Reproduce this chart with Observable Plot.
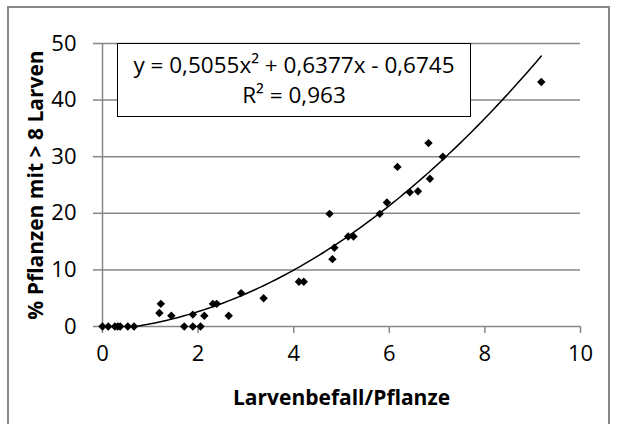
<!DOCTYPE html>
<html>
<head>
<meta charset="utf-8">
<script src="https://cdn.jsdelivr.net/npm/d3@7"></script>
<script src="https://cdn.jsdelivr.net/npm/@observablehq/plot@0.6"></script>
<style>
  html, body { margin: 0; padding: 0; background: #fff; }
  #wrap { position: relative; width: 618px; height: 424px; overflow: hidden; font-family: "Open Sans", sans-serif; }
  #border { position: absolute; left: 7px; top: 6px; width: 603px; height: 440px; border: 2px solid #878787; box-sizing: border-box; }
  #eq { position: absolute; left: 117px; top: 43px; width: 354px; height: 74px; border: 1.5px solid #000; background: #fff; box-sizing: border-box; text-align: center; font-size: 22.5px; color: #000; line-height: 30px; padding-top: 6px; white-space: nowrap; }
  #chart { position: absolute; left: 0; top: 0; }
</style>
</head>
<body>
<div id="wrap">
  <div id="border"></div>
  <div id="chart"></div>
  <div id="eq"><div>y = 0,5055x² + 0,6377x - 0,6745</div><div>R² = 0,963</div></div>
</div>
<script>
// Data
const larvae = [0.00, 0.12, 0.26, 0.32, 0.37, 0.53, 0.66, 1.19, 1.22, 1.44, 1.71, 1.89, 1.89, 2.05, 2.13, 2.31, 2.39, 2.64, 2.90, 3.37, 4.11, 4.21, 4.75, 4.81, 4.85, 5.14, 5.25, 5.80, 5.95, 6.17, 6.43, 6.60, 6.82, 6.85, 7.12, 9.18];
const percent = [0, 0, 0, 0, 0, 0, 0, 2.4, 4.0, 1.9, 0, 0, 2.1, 0, 1.9, 4.0, 4.0, 1.9, 5.9, 5.0, 7.9, 7.9, 19.9, 11.9, 13.9, 15.9, 15.9, 19.9, 21.9, 28.2, 23.7, 23.9, 32.4, 26.1, 30.0, 43.2];
// Polynomial trendline coefficients as printed on the chart (a, b, c)
const trendCoef = [0.5055, 0.6377, -0.6745];
const trendRange = [0.72, 9.18];
const xTicks = [0, 2, 4, 6, 8, 10];
const yTicks = [0, 10, 20, 30, 40, 50];
const xTitle = "Larvenbefall/Pflanze";
const yTitle = "% Pflanzen mit > 8 Larven";

const points = larvae.map((x, i) => ({x, y: percent[i]}));
const trend = d3.range(trendRange[0], trendRange[1] + 1e-9, (trendRange[1] - trendRange[0]) / 120)
  .map(x => ({x, y: trendCoef[0] * x * x + trendCoef[1] * x + trendCoef[2]}));

const grey = "#878787";
const chart = Plot.plot({
  width: 618,
  height: 424,
  marginLeft: 102,
  marginRight: 38,
  marginTop: 43,
  marginBottom: 98,
  style: {fontFamily: "'Open Sans', sans-serif", fontSize: "22px", color: "#000", background: "transparent"},
  x: {domain: [0, 10]},
  y: {domain: [0, 50]},
  marks: [
    Plot.gridY(yTicks.filter(d => d > 0), {stroke: grey, strokeOpacity: 1, strokeWidth: 1.5}),
    Plot.axisY(yTicks, {tickSize: 9, tickPadding: 17, stroke: grey, strokeWidth: 1.5, label: null, fill: "#000", fontSize: 22}),
    Plot.axisX(xTicks, {tickSize: 7, tickPadding: 12, stroke: grey, strokeWidth: 1.5, label: null, fill: "#000", fontSize: 22}),
    Plot.ruleX([0], {stroke: grey, strokeWidth: 1.5}),
    Plot.ruleY([0], {stroke: grey, strokeWidth: 1.5}),
    Plot.line(trend, {x: "x", y: "y", stroke: "#000", strokeWidth: 1.5}),
    Plot.dot(points, {x: "x", y: "y", symbol: "diamond2", r: 3.8, fill: "#000", stroke: "none"}),
    Plot.text([xTitle], {frameAnchor: "bottom", dy: 78, fontWeight: "bold", fontSize: 21, fill: "#000"}),
    Plot.text([yTitle], {frameAnchor: "left", dx: -66, rotate: -90, textAnchor: "middle", fontWeight: "bold", fontSize: 21, fill: "#000"})
  ]
});
document.getElementById("chart").appendChild(chart);
</script>
</body>
</html>
